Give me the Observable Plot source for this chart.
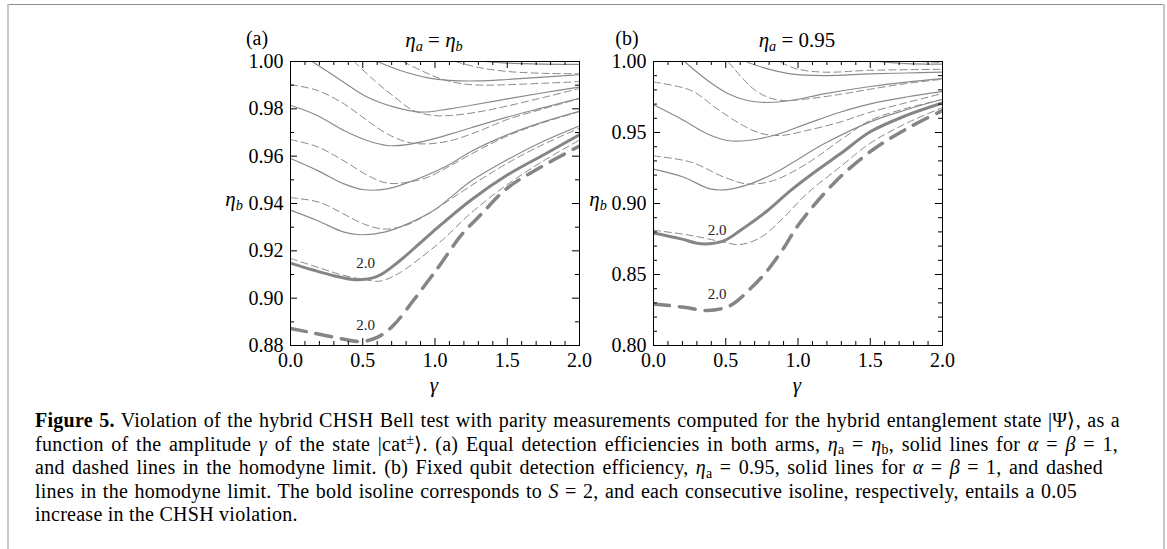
<!DOCTYPE html>
<html><head><meta charset="utf-8">
<script src="https://cdn.jsdelivr.net/npm/d3@7"></script>
<script src="https://cdn.jsdelivr.net/npm/@observablehq/plot@0.6"></script>
<style>
html,body{margin:0;padding:0;background:#fff;}
#fig{position:relative;width:1167px;height:549px;overflow:hidden;font-family:"Liberation Serif","Times New Roman",serif;color:#000;}
.bt{position:absolute;left:7px;right:3px;top:4px;height:0;border-top:1px solid #8f8f8f;}
.bl{position:absolute;left:7px;top:4px;bottom:0;width:0;border-left:2px solid #c8c8c8;}
.br{position:absolute;right:2px;top:4px;bottom:0;width:0;border-left:2px solid #c8c8c8;}
.lab{position:absolute;transform:translate(-50%,-50%);white-space:nowrap;font-size:21px;line-height:1;}
.lab sub{font-size:0.68em;vertical-align:baseline;position:relative;top:0.3em;line-height:0;}
.pl{font-size:20px;}
.pan{position:absolute;top:20px;}
#cap{position:absolute;left:35px;top:409px;font-size:20px;line-height:23.5px;letter-spacing:0.25px;}
#cap .ln{white-space:nowrap;display:block;height:23.5px;}
#cap .ln span.t{display:inline-block;}
#cap sub{font-size:0.7em;vertical-align:baseline;position:relative;top:0.28em;line-height:0;}
#cap sup{font-size:0.7em;vertical-align:baseline;position:relative;top:-0.5em;line-height:0;}
</style></head>
<body>
<div id="fig">
  <div class="bt"></div><div class="bl"></div><div class="br"></div>
  <div id="pa" class="pan" style="left:190px"></div>
  <div id="pb" class="pan" style="left:573px"></div>
  <div class="lab pl" style="left:257px;top:38px">(a)</div>
  <div class="lab" style="left:434px;top:40px"><i>η</i><sub><i>a</i></sub> = <i>η</i><sub><i>b</i></sub></div>
  <div class="lab pl" style="left:627px;top:38px">(b)</div>
  <div class="lab" style="left:797px;top:40px"><i>η</i><sub><i>a</i></sub> = 0.95</div>
  <div class="lab" style="left:234px;top:199px"><i>η</i><sub><i>b</i></sub></div>
  <div class="lab" style="left:598px;top:199px"><i>η</i><sub><i>b</i></sub></div>
  <div class="lab" style="left:434px;top:385px"><i>γ</i></div>
  <div class="lab" style="left:797px;top:385px"><i>γ</i></div>
  <div id="cap">
    <div class="ln"><span class="t" data-end="1120"><b>Figure 5.</b> Violation of the hybrid CHSH Bell test with parity measurements computed for the hybrid entanglement state |Ψ⟩, as a</span></div>
    <div class="ln"><span class="t" data-end="1118">function of the amplitude <i>γ</i> of the state |cat<sup>±</sup>⟩. (a) Equal detection efficiencies in both arms, <i>η</i><sub>a</sub> = <i>η</i><sub>b</sub>, solid lines for <i>α</i> = <i>β</i> = 1,</span></div>
    <div class="ln"><span class="t" data-end="1103">and dashed lines in the homodyne limit. (b) Fixed qubit detection efficiency, <i>η</i><sub>a</sub> = 0.95, solid lines for <i>α</i> = <i>β</i> = 1, and dashed</span></div>
    <div class="ln"><span class="t" data-end="1077">lines in the homodyne limit. The bold isoline corresponds to <i>S</i> = 2, and each consecutive isoline, respectively, entails a 0.05</span></div>
    <div class="ln"><span class="t">increase in the CHSH violation.</span></div>
  </div>
</div>
<script>
// ---------- axis ticks ----------
const gammaMajor = [0, 0.5, 1.0, 1.5, 2.0];
const gammaMinor = [0.1,0.2,0.3,0.4,0.6,0.7,0.8,0.9,1.1,1.2,1.3,1.4,1.6,1.7,1.8,1.9];
const etaMajorA = [0.88, 0.90, 0.92, 0.94, 0.96, 0.98, 1.00];
const etaMinorA = [0.89, 0.91, 0.93, 0.95, 0.97, 0.99];
const etaMajorB = [0.80, 0.85, 0.90, 0.95, 1.00];
const etaMinorB = [0.81,0.82,0.83,0.84,0.86,0.87,0.88,0.89,0.91,0.92,0.93,0.94,0.96,0.97,0.98,0.99];

// ---------- panel (a): eta_a = eta_b ----------  [gamma, eta_b]
const aBoldSolid  = [[0,0.9148],[0.15,0.912],[0.3,0.9095],[0.45,0.9078],[0.6,0.9092],[0.75,0.9155],[0.9,0.9235],[1.05,0.9315],[1.25,0.9415],[1.5,0.952],[1.75,0.9605],[2.0,0.969]];
const aBoldDashed = [[0,0.8872],[0.14,0.8855],[0.3,0.8835],[0.48,0.8817],[0.6,0.8834],[0.71,0.8884],[0.85,0.899],[0.97,0.9087],[1.04,0.9145],[1.18,0.9265],[1.32,0.9355],[1.5,0.9465],[1.73,0.9553],[2.0,0.9643]];
const aSolid205 = [[0,0.9372],[0.185,0.9328],[0.37,0.9279],[0.48,0.9268],[0.65,0.9279],[0.81,0.9314],[0.99,0.937],[1.11,0.9427],[1.25,0.9495],[1.5,0.9585],[1.75,0.9663],[2.0,0.9728]];
const aSolid210 = [[0,0.959],[0.185,0.954],[0.37,0.9483],[0.51,0.9458],[0.67,0.9462],[0.85,0.9497],[0.99,0.9532],[1.11,0.9568],[1.25,0.962],[1.5,0.969],[1.75,0.9745],[2.0,0.979]];
const aSolid215 = [[0,0.9815],[0.185,0.9772],[0.37,0.9708],[0.53,0.9666],[0.67,0.9645],[0.81,0.9649],[0.99,0.9673],[1.11,0.9694],[1.25,0.972],[1.5,0.9765],[1.75,0.9805],[2.0,0.9845]];
const aSolid220 = [[0.15,1.0],[0.35,0.992],[0.53,0.985],[0.72,0.9807],[0.9,0.9786],[1.1,0.98],[1.25,0.9815],[1.5,0.9842],[1.75,0.9868],[2.0,0.9892]];
const aSolid225 = [[0.6,1.0],[0.76,0.9962],[0.95,0.9931],[1.1,0.992],[1.3,0.9918],[1.5,0.9924],[1.75,0.9934],[2.0,0.9944]];
const aSolid230 = [[1.34,1.0],[1.5,0.9993],[1.75,0.9989],[2.0,0.9988]];
const aDash205 = [[0,0.9168],[0.2,0.9128],[0.37,0.9096],[0.5,0.908],[0.62,0.9072],[0.75,0.9105],[0.9,0.917],[1.05,0.9245],[1.25,0.936],[1.5,0.948],[1.75,0.958],[2.0,0.9668]];
const aDash210 = [[0,0.9425],[0.2,0.9405],[0.37,0.9355],[0.5,0.9315],[0.65,0.9292],[0.8,0.9308],[0.95,0.9355],[1.1,0.9415],[1.3,0.9495],[1.5,0.957],[1.75,0.965],[2.0,0.9718]];
const aDash215 = [[0,0.967],[0.185,0.964],[0.37,0.958],[0.53,0.952],[0.67,0.9486],[0.81,0.949],[0.95,0.9511],[1.11,0.9561],[1.3,0.9625],[1.5,0.9685],[1.75,0.9742],[2.0,0.9788]];
const aDash220 = [[0,0.9902],[0.185,0.9878],[0.37,0.9821],[0.53,0.9751],[0.67,0.9694],[0.81,0.9659],[0.95,0.9652],[1.11,0.9666],[1.3,0.9705],[1.5,0.9755],[1.75,0.98],[2.0,0.9843]];
const aDash225 = [[0.44,1.0],[0.58,0.992],[0.72,0.985],[0.85,0.9793],[0.99,0.9772],[1.11,0.9772],[1.3,0.9787],[1.5,0.9812],[1.75,0.9848],[2.0,0.9886]];
const aDash230 = [[0.78,1.0],[0.9,0.9963],[1.05,0.9925],[1.2,0.9905],[1.35,0.99],[1.5,0.9902],[1.75,0.9908],[2.0,0.9915]];
const aDash235 = [[1.14,1.0],[1.3,0.9975],[1.5,0.9958],[1.75,0.995],[2.0,0.9948]];
const aLabelGamma = [0.52, 0.52];
const aLabelEta   = [0.9146, 0.8884];
const contourLabel = ["2.0", "2.0"];

// ---------- panel (b): eta_a = 0.95 ----------
const bBoldSolid  = [[0,0.8792],[0.19,0.8751],[0.33,0.8716],[0.49,0.8739],[0.6,0.881],[0.79,0.8951],[0.95,0.9092],[1.13,0.9232],[1.3,0.9355],[1.5,0.9505],[1.75,0.962],[2.0,0.9708]];
const bBoldDashed = [[0,0.8292],[0.21,0.827],[0.37,0.8246],[0.53,0.828],[0.67,0.840],[0.79,0.853],[0.9,0.8685],[1.0,0.8845],[1.25,0.9145],[1.5,0.9365],[1.75,0.9525],[2.0,0.9655]];
const bSolid205 = [[0,0.9242],[0.21,0.9185],[0.39,0.9103],[0.51,0.9098],[0.67,0.9138],[0.82,0.9205],[0.95,0.928],[1.18,0.942],[1.5,0.9575],[1.75,0.966],[2.0,0.9735]];
const bSolid210 = [[0,0.9695],[0.21,0.9585],[0.37,0.9491],[0.51,0.9444],[0.65,0.9444],[0.83,0.9479],[1.06,0.9561],[1.29,0.9643],[1.5,0.9702],[1.75,0.975],[2.0,0.9788]];
const bSolid215 = [[0.22,0.9995],[0.37,0.987],[0.51,0.9777],[0.65,0.9725],[0.79,0.9711],[0.95,0.9725],[1.18,0.9772],[1.5,0.9824],[1.75,0.9855],[2.0,0.988]];
const bSolid220 = [[0.65,0.9995],[0.79,0.9948],[0.95,0.9913],[1.18,0.9901],[1.5,0.9913],[1.75,0.9919],[2.0,0.9925]];
const bSolid225 = [[1.55,1.0],[1.75,0.9985],[2.0,0.9982]];
const bDash205 = [[0,0.8812],[0.26,0.8775],[0.49,0.8727],[0.6,0.8711],[0.74,0.876],[0.9,0.890],[1.06,0.9068],[1.29,0.9256],[1.5,0.9425],[1.75,0.9565],[2.0,0.9675]];
const bDash210 = [[0,0.9335],[0.26,0.9291],[0.49,0.9185],[0.65,0.9138],[0.83,0.9162],[1.06,0.928],[1.29,0.9444],[1.5,0.9585],[1.75,0.967],[2.0,0.9732]];
const bDash215 = [[0,0.9855],[0.26,0.9796],[0.44,0.9667],[0.6,0.9561],[0.74,0.9495],[0.88,0.9479],[1.06,0.9514],[1.29,0.9573],[1.5,0.9643],[1.75,0.971],[2.0,0.9775]];
const bDash220 = [[0.52,0.9995],[0.6,0.990],[0.7,0.980],[0.8,0.9745],[0.9,0.9725],[1.05,0.9735],[1.3,0.977],[1.5,0.9805],[1.75,0.9845],[2.0,0.9875]];
const bDash225 = [[0.88,0.9995],[0.99,0.9948],[1.18,0.9925],[1.5,0.9938],[2.0,0.9945]];
const bDash230 = [[1.85,1.0],[2.0,0.9993]];
const bLabelGamma = [0.44, 0.44];
const bLabelEta   = [0.881, 0.8364];

// ---------- build ----------
function rows(list) {
  const out = [];
  list.forEach((c, i) => c.forEach(([g, e]) => out.push({id: i, g, e})));
  return out;
}
const LINE = "#8a8a8a";
function panel(cfg) {
  const W = 289, H = 284;
  const mL = cfg.marginLeft, mT = 41;
  const width = mL + W + cfg.marginRight, height = 380;
  const mB = height - mT - H;
  const lab = cfg.labG.map((g, i) => ({g, e: cfg.labE[i], t: contourLabel[i]}));
  return Plot.plot({
    width, height,
    marginLeft: mL, marginRight: cfg.marginRight, marginTop: mT, marginBottom: mB,
    x: {domain: [0, 2]},
    y: {domain: cfg.yDomain},
    style: {background: "transparent", fontFamily: "'Liberation Serif','Times New Roman',serif", fontSize: "20px", color: "#000", overflow: "visible"},
    marks: [
      Plot.line(rows(cfg.thinSolid), {x: "g", y: "e", z: "id", stroke: LINE, strokeWidth: 1.15, curve: "catmull-rom", clip: true}),
      Plot.line(rows(cfg.thinDash), {x: "g", y: "e", z: "id", stroke: LINE, strokeWidth: 1.0, strokeDasharray: "7,4", curve: "catmull-rom", clip: true}),
      Plot.line(cfg.boldSolid, {x: d => d[0], y: d => d[1], stroke: "#858585", strokeWidth: 3, curve: "catmull-rom", clip: true}),
      Plot.line(cfg.boldDash, {x: d => d[0], y: d => d[1], stroke: "#858585", strokeWidth: 3.5, strokeDasharray: "16,10", curve: "catmull-rom", clip: true}),
      Plot.text(lab, {x: "g", y: "e", text: "t", fontSize: 15, fill: "#222"}),
      Plot.frame({stroke: "#000", strokeWidth: 1}),
      // inward ticks on all four sides
      Plot.tickX(gammaMajor, {x: d => d, insetTop: H - 7, stroke: "#000"}),
      Plot.tickX(gammaMinor, {x: d => d, insetTop: H - 4, stroke: "#000"}),
      Plot.tickX(gammaMajor, {x: d => d, insetBottom: H - 7, stroke: "#000"}),
      Plot.tickX(gammaMinor, {x: d => d, insetBottom: H - 4, stroke: "#000"}),
      Plot.tickY(cfg.yMajor, {y: d => d, insetRight: W - 7, stroke: "#000"}),
      Plot.tickY(cfg.yMinor, {y: d => d, insetRight: W - 4, stroke: "#000"}),
      Plot.tickY(cfg.yMajor, {y: d => d, insetLeft: W - 7, stroke: "#000"}),
      Plot.tickY(cfg.yMinor, {y: d => d, insetLeft: W - 4, stroke: "#000"}),
      Plot.axisX(gammaMajor, {tickSize: 0, tickPadding: 7, tickFormat: d3.format(".1f"), label: null, fontSize: 20}),
      Plot.axisY(cfg.yMajor, {tickSize: 0, tickPadding: 7, tickFormat: d3.format(".2f"), label: null, fontSize: 20})
    ]
  });
}

document.getElementById("pa").append(panel({
  marginLeft: 100, marginRight: 21, yDomain: [0.88, 1.0],
  yMajor: etaMajorA, yMinor: etaMinorA,
  thinSolid: [aSolid205, aSolid210, aSolid215, aSolid220, aSolid225, aSolid230],
  thinDash: [aDash205, aDash210, aDash215, aDash220, aDash225, aDash230, aDash235],
  boldSolid: aBoldSolid, boldDash: aBoldDashed,
  labG: aLabelGamma, labE: aLabelEta
}));
document.getElementById("pb").append(panel({
  marginLeft: 80, marginRight: 21, yDomain: [0.80, 1.0],
  yMajor: etaMajorB, yMinor: etaMinorB,
  thinSolid: [bSolid205, bSolid210, bSolid215, bSolid220, bSolid225],
  thinDash: [bDash205, bDash210, bDash215, bDash220, bDash225, bDash230],
  boldSolid: bBoldSolid, boldDash: bBoldDashed,
  labG: bLabelGamma, labE: bLabelEta
}));

// caption: stretch word spacing so each line ends where the reference line ends
const capLeft = 35;
document.querySelectorAll("#cap span.t").forEach(el => {
  const end = +el.dataset.end;
  if (!end) return;
  const w = el.getBoundingClientRect().width;
  const n = (el.textContent.match(/ /g) || []).length;
  let ws = (end - capLeft - w) / n;
  ws = Math.max(-2, Math.min(10, ws));
  el.style.wordSpacing = ws + "px";
});
</script>
</body></html>
